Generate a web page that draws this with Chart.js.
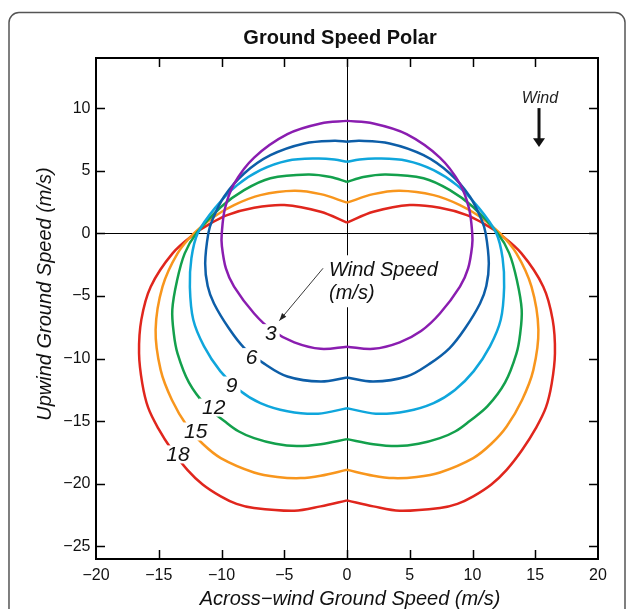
<!DOCTYPE html>
<html>
<head>
<meta charset="utf-8">
<script src="https://cdn.jsdelivr.net/npm/chart.js@4.4.1/dist/chart.umd.min.js"></script>
<style>
  html, body { margin: 0; padding: 0; background: #fff; }
</style>
</head>
<body>
<canvas id="polarChart" width="627" height="609"></canvas>
<script>
// Ground speed polar: one closed curve per wind speed.
// Each curve is read as its right half (top cusp -> bottom cusp), the left half is its mirror.
const windSpeeds = [3, 6, 9, 12, 15, 18];
const lineColors = ['#8a1db0', '#0d5ea8', '#0fa6dc', '#13a04c', '#f8961d', '#e0261d'];

const across3 = [0, 2.1, 4.75, 7.4, 9.0, 9.72, 9.98, 9.97, 9.65, 9.0, 7.4, 5.9, 4.2, 2.1, 0];
const upwind3 = [8.98, 8.77, 7.92, 6.05, 3.95, 2.0, 0, -1.0, -2.8, -4.25, -6.4, -7.8, -8.7, -9.22, -9.05];

const across6 = [0, 1.0, 3.4, 6.1, 8.2, 9.8, 10.73, 11.05, 11.3, 11.1, 10.6, 9.4, 8.18, 6.6, 4.75, 2.1, 0];
const upwind6 = [7.31, 7.39, 7.18, 6.24, 4.78, 2.92, 1.06, 0, -2.4, -4.2, -5.6, -7.6, -9.16, -10.4, -11.43, -11.83, -11.51];

const across9 = [0, 1.0, 2.4, 4.75, 6.9, 8.75, 10.45, 11.9, 12.4, 12.52, 12.25, 11.4, 10.1, 8.6, 6.9, 4.75, 2.3, 0];
const upwind9 = [5.71, 5.9, 5.98, 5.8, 5.05, 3.85, 2.1, 0, -2.0, -4.3, -6.9, -9.0, -11.0, -12.5, -13.55, -14.2, -14.4, -13.96];

const across12 = [0, 1.3, 3.1, 6.1, 8.2, 10.05, 12.0, 12.93, 13.55, 13.92, 13.8, 13.5, 12.6, 11.2, 9.75, 8.65, 7.4, 5.7, 4.0, 2.1, 0];
const upwind12 = [4.1, 4.5, 4.7, 4.4, 3.45, 2.1, 0, -1.6, -3.8, -6.1, -8.0, -9.6, -11.9, -13.8, -15.0, -15.8, -16.35, -16.8, -16.98, -16.83, -16.43];

const across15 = [0, 2.1, 4.2, 6.9, 9.0, 10.6, 12.2, 13.5, 14.7, 15.25, 14.85, 13.95, 12.72, 11.5, 10.06, 7.41, 5.55, 3.7, 2.1, 0];
const upwind15 = [2.45, 3.13, 3.4, 3.05, 2.26, 1.33, 0, -1.6, -4.26, -7.7, -10.9, -13.3, -15.42, -16.8, -17.94, -19.09, -19.45, -19.54, -19.35, -18.88];

const across18 = [0, 2.1, 5.0, 7.4, 9.55, 11.1, 12.1, 13.9, 15.64, 16.39, 16.57, 16.31, 15.85, 15.05, 13.95, 12.72, 11.5, 10.06, 8.8, 7.41, 4.2, 2.1, 0];
const upwind18 = [0.85, 1.72, 2.26, 2.04, 1.46, 0.66, 0, -1.6, -4.26, -6.91, -9.57, -12.0, -13.9, -15.55, -17.3, -18.88, -20.05, -21.0, -21.6, -21.93, -22.15, -21.8, -21.32];

const xTickValues = [-20, -15, -10, -5, 0, 5, 10, 15, 20];
const yTickValues = [-25, -20, -15, -10, -5, 0, 5, 10];

// where the curve labels sit, in data units
const curveLabelSpots = [[-6.07, -7.97], [-7.6, -9.88], [-9.19, -12.15], [-10.62, -13.91], [-12.05, -15.82], [-13.47, -17.65]];

const FONT = '"Liberation Sans", Arial, Helvetica, sans-serif';

const halves = [
    [across3, upwind3], [across6, upwind6], [across9, upwind9],
    [across12, upwind12], [across15, upwind15], [across18, upwind18]
];

const datasets = [];
halves.forEach(([xs, ys], i) => {
    const right = xs.map((x, k) => ({ x: x, y: ys[k] }));
    const left = xs.map((x, k) => ({ x: -x, y: ys[k] }));
    [right, left].forEach(pts => {
        datasets.push({
            label: windSpeeds[i] + ' m/s',
            data: pts,
            showLine: true,
            borderColor: lineColors[i],
            borderWidth: 2.5,
            pointRadius: 0,
            tension: 0.35,
            fill: false
        });
    });
});

function minusLabel(v) {
    return v < 0 ? '\u2212' + Math.abs(v) : String(v);
}

function zeroOnly(c) {
    return c.tick && c.tick.value === 0 ? '#000' : 'rgba(0,0,0,0)';
}

const decorPlugin = {
    id: 'decor',
    beforeDraw(chart) {
        const ctx = chart.ctx;
        ctx.save();
        ctx.fillStyle = '#fff';
        ctx.fillRect(0, 0, chart.width, chart.height);
        // outer rounded panel
        ctx.strokeStyle = '#555';
        ctx.lineWidth = 1.5;
        ctx.beginPath();
        ctx.roundRect(9, 12.5, 616, 640, 10);
        ctx.stroke();
        // title
        ctx.fillStyle = '#111';
        ctx.font = 'bold 20px ' + FONT;
        ctx.textAlign = 'center';
        ctx.textBaseline = 'middle';
        ctx.fillText('Ground Speed Polar', 340, 38);
        // axis titles
        ctx.font = 'italic 20px ' + FONT;
        ctx.fillText('Across\u2212wind Ground Speed (m/s)', 350, 599);
        ctx.translate(45, 294);
        ctx.rotate(-Math.PI / 2);
        ctx.fillText('Upwind Ground Speed (m/s)', 0, 0);
        ctx.restore();
    },
    afterDatasetsDraw(chart) {
        const ctx = chart.ctx;
        const xs = chart.scales.x, ys = chart.scales.y;
        const area = chart.chartArea;
        const px = v => xs.getPixelForValue(v);
        const py = v => ys.getPixelForValue(v);
        ctx.save();

        // wind speed labels on the curves
        ctx.font = 'italic 21px ' + FONT;
        ctx.textAlign = 'center';
        ctx.textBaseline = 'middle';
        windSpeeds.forEach((w, i) => {
            const cx = px(curveLabelSpots[i][0]);
            const cy = py(curveLabelSpots[i][1]);
            const tw = ctx.measureText(String(w)).width;
            ctx.fillStyle = '#fff';
            ctx.fillRect(cx - tw / 2 - 3, cy - 9, tw + 6, 18);
            ctx.fillStyle = '#111';
            ctx.fillText(String(w), cx, cy + 1);
        });

        // "Wind Speed (m/s)" note with pointer
        ctx.font = 'italic 20px ' + FONT;
        ctx.textAlign = 'left';
        ctx.textBaseline = 'alphabetic';
        const nx = px(-1.43);
        const w1 = ctx.measureText('Wind Speed').width;
        ctx.fillStyle = '#fff';
        ctx.fillRect(nx - 2, py(-1.75), w1 + 4, py(-5.9) - py(-1.75));
        ctx.fillStyle = '#111';
        ctx.fillText('Wind Speed', nx, py(-3.4));
        ctx.fillText('(m/s)', nx, py(-5.25));

        const ax0 = px(-1.91), ay0 = py(-2.79), ax1 = px(-5.39), ay1 = py(-6.97);
        ctx.strokeStyle = '#222';
        ctx.lineWidth = 0.9;
        ctx.beginPath();
        ctx.moveTo(ax0, ay0);
        ctx.lineTo(ax1, ay1);
        ctx.stroke();
        const ang = Math.atan2(ay1 - ay0, ax1 - ax0);
        ctx.fillStyle = '#222';
        ctx.beginPath();
        ctx.moveTo(ax1, ay1);
        ctx.lineTo(ax1 - 8 * Math.cos(ang - 0.35), ay1 - 8 * Math.sin(ang - 0.35));
        ctx.lineTo(ax1 - 8 * Math.cos(ang + 0.35), ay1 - 8 * Math.sin(ang + 0.35));
        ctx.closePath();
        ctx.fill();

        // wind direction arrow
        const wx = px(15.3);
        ctx.font = 'italic 16px ' + FONT;
        ctx.textAlign = 'center';
        ctx.textBaseline = 'middle';
        ctx.fillText('Wind', wx + 1, py(10.8));
        ctx.strokeStyle = '#111';
        ctx.lineWidth = 3;
        ctx.beginPath();
        ctx.moveTo(wx, py(10.0));
        ctx.lineTo(wx, py(7.5));
        ctx.stroke();
        ctx.fillStyle = '#111';
        ctx.beginPath();
        ctx.moveTo(wx - 6, py(7.6));
        ctx.lineTo(wx + 6, py(7.6));
        ctx.lineTo(wx, py(6.9));
        ctx.closePath();
        ctx.fill();

        // inward tick marks on all four sides
        ctx.strokeStyle = '#000';
        ctx.lineWidth = 1.5;
        ctx.beginPath();
        xTickValues.slice(1, -1).forEach(v => {
            const x = Math.round(px(v)) + 0.5;
            ctx.moveTo(x, area.bottom); ctx.lineTo(x, area.bottom - 9);
            ctx.moveTo(x, area.top); ctx.lineTo(x, area.top + 9);
        });
        yTickValues.forEach(v => {
            const y = Math.round(py(v)) + 0.5;
            ctx.moveTo(area.left, y); ctx.lineTo(area.left + 9, y);
            ctx.moveTo(area.right, y); ctx.lineTo(area.right - 9, y);
        });
        ctx.stroke();

        // plot frame
        ctx.lineWidth = 2;
        ctx.strokeRect(area.left, area.top, area.right - area.left, area.bottom - area.top);
        ctx.restore();
    }
};

const ctx = document.getElementById('polarChart').getContext('2d');
const chart = new Chart(ctx, {
    type: 'scatter',
    data: { datasets: datasets },
    options: {
        responsive: false,
        animation: false,
        devicePixelRatio: 1,
        layout: { padding: { top: 58, right: 29, bottom: 0, left: 0 } },
        plugins: {
            legend: { display: false },
            title: { display: false },
            tooltip: { enabled: false }
        },
        scales: {
            x: {
                type: 'linear',
                min: -20,
                max: 20,
                afterBuildTicks: s => { s.ticks = xTickValues.map(v => ({ value: v })); },
                afterFit: s => { s.height = 50; },
                border: { display: false },
                grid: { drawTicks: false, color: zeroOnly, lineWidth: 1 },
                ticks: {
                    padding: 9,
                    maxRotation: 0,
                    autoSkip: false,
                    color: '#111',
                    font: { family: FONT, size: 16, lineHeight: 1 },
                    callback: minusLabel
                }
            },
            y: {
                type: 'linear',
                min: -26,
                max: 14,
                afterBuildTicks: s => { s.ticks = yTickValues.map(v => ({ value: v })); },
                afterFit: s => { s.width = 96; },
                border: { display: false },
                grid: { drawTicks: false, color: zeroOnly, lineWidth: 1 },
                ticks: {
                    padding: 5.5,
                    autoSkip: false,
                    color: '#111',
                    font: { family: FONT, size: 16, lineHeight: 1 },
                    callback: minusLabel
                }
            }
        }
    },
    plugins: [decorPlugin]
});
</script>
</body>
</html>
